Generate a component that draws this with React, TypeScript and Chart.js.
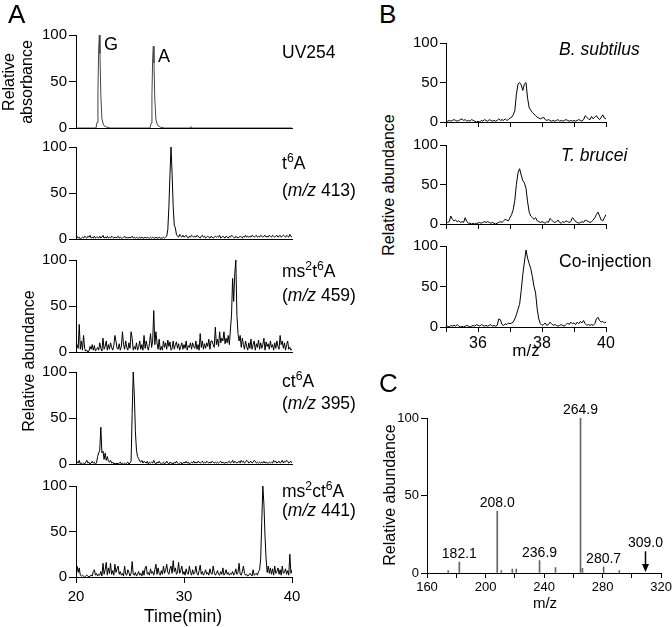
import React, { useEffect, useRef } from 'react';
import { Chart, registerables } from 'chart.js';

Chart.register(...registerables);

const FONT = '"Liberation Sans", Arial, Helvetica, sans-serif';
Chart.defaults.color = '#000';
Chart.defaults.font.family = FONT;

// ---------------- Panel A data (time in minutes, 0.1 min sampling) ----------------
const sampleTimesA = Array.from({ length: 201 }, (_, i) => Math.round((20 + i * 0.1) * 10) / 10);
const timeTicksA = [20, 30, 40];

const uvTimes = [20, 21.85, 21.95, 22.03, 22.1, 22.16, 22.22, 22.3, 22.4, 22.55, 22.8, 23.2,
  26.85, 26.95, 27.03, 27.1, 27.16, 27.22, 27.3, 27.4, 27.55, 27.8, 28.2, 30.55, 30.65, 30.75, 40];
const uvAbsorbance = [0, 0, 6, 40, 85, 100, 80, 35, 10, 3, 1, 0,
  0, 5, 35, 75, 88, 70, 30, 9, 3, 1, 0, 0, 1.5, 0, 0];

const t6A = [
  2, 3, 1, 2, 0, 1, 2, 1, 3, 2,
  1, 3, 2, 4, 1, 2, 1, 3, 1, 2,
  2, 1, 3, 1, 2, 4, 1, 2, 1, 3,
  1, 2, 1, 3, 2, 1, 2, 1, 2, 3,
  1, 2, 1, 1, 2, 3, 1, 2, 1, 2,
  1, 2, 3, 1, 2, 1, 2, 1, 1, 2,
  1, 2, 1, 1, 2, 1, 2, 1, 1, 2,
  1, 2, 1, 1, 2, 1, 1, 2, 1, 1,
  1, 2, 1, 2, 3, 10, 35, 70, 100, 70,
  35, 15, 12, 5, 3, 2, 5, 3, 2, 4,
  2, 3, 4, 2, 1, 3, 2, 4, 3, 2,
  3, 2, 4, 3, 2, 1, 3, 4, 2, 3,
  1, 2, 3, 2, 1, 3, 2, 1, 2, 3,
  2, 3, 2, 4, 1, 2, 3, 2, 1, 3,
  2, 1, 3, 2, 4, 3, 2, 1, 3, 2,
  1, 2, 3, 2, 1, 3, 2, 4, 2, 3,
  2, 3, 2, 4, 3, 2, 3, 4, 2, 3,
  2, 4, 3, 2, 3, 4, 2, 3, 2, 4,
  3, 2, 4, 3, 2, 3, 4, 2, 3, 4,
  2, 3, 4, 3, 2, 4, 3, 2, 5, 3,
  2,
];

const ms2t6A = [
  2, 8, 4, 30, 3, 12, 2, 18, 4, 1,
  2, 0, 1, 6, 3, 8, 2, 7, 1, 3,
  5, 2, 10, 4, 1, 15, 3, 6, 12, 2,
  8, 3, 10, 5, 2, 7, 18, 12, 4, 3,
  9, 2, 6, 22, 8, 3, 12, 5, 2, 10,
  4, 22, 15, 2, 6, 3, 10, 2, 5, 12,
  3, 8, 2, 18, 4, 12, 6, 2, 9, 20,
  5, 12, 45, 8, 22, 10, 3, 14, 2, 6,
  2, 12, 5, 10, 3, 13, 6, 11, 2, 4,
  12, 3, 8, 11, 4, 9, 2, 6, 10, 3,
  8, 4, 12, 2, 7, 5, 10, 3, 10, 6,
  4, 12, 3, 8, 2, 20, 5, 12, 3, 9,
  4, 10, 6, 14, 3, 12, 12, 8, 5, 27,
  8, 14, 6, 22, 10, 15, 12, 22, 9, 15,
  10, 18, 8, 25, 40, 80, 55, 85, 100, 40,
  20, 12, 18, 5, 15, 8, 3, 12, 6, 2,
  10, 4, 14, 3, 8, 12, 2, 9, 5, 13,
  3, 10, 4, 8, 15, 2, 11, 6, 9, 3,
  12, 5, 8, 2, 10, 4, 12, 6, 3, 18,
  8, 12, 4, 10, 2, 8, 12, 3, 5, 2,
  3,
];

const ct6A = [
  5, 2, 1, 4, 0, 1, 0, 1, 0, 2,
  4, 1, 2, 0, 1, 3, 1, 2, 0, 1,
  8, 12, 15, 40, 12, 14, 5, 12, 4, 8,
  3, 2, 4, 1, 2, 0, 1, 0, 1, 0,
  1, 2, 0, 1, 0, 1, 0, 1, 2, 0,
  1, 3, 55, 100, 75, 35, 15, 8, 6, 3,
  2, 4, 1, 3, 2, 1, 3, 0, 2, 1,
  2, 1, 4, 1, 0, 2, 1, 3, 1, 0,
  1, 2, 0, 1, 3, 1, 0, 2, 1, 1,
  0, 2, 1, 3, 1, 0, 1, 2, 0, 1,
  2, 1, 3, 1, 2, 0, 1, 2, 1, 3,
  1, 2, 1, 3, 2, 1, 2, 3, 1, 2,
  1, 3, 2, 1, 2, 1, 3, 2, 1, 2,
  1, 2, 1, 2, 3, 1, 2, 1, 1, 2,
  1, 2, 3, 1, 2, 4, 1, 3, 2, 1,
  2, 3, 1, 4, 2, 3, 1, 2, 4, 3,
  1, 2, 3, 1, 2, 4, 3, 1, 2, 1,
  2, 1, 2, 1, 3, 1, 2, 1, 1, 2,
  1, 2, 1, 4, 2, 3, 1, 2, 3, 1,
  2, 4, 1, 3, 2, 4, 3, 1, 2, 3,
  1,
];

const ms2ct6A = [
  3, 12, 5, 10, 2, 1, 2, 1, 0, 1,
  2, 1, 0, 1, 2, 1, 6, 8, 2, 4,
  1, 3, 2, 6, 1, 15, 3, 8, 16, 2,
  10, 4, 15, 3, 7, 2, 14, 5, 9, 12,
  3, 6, 2, 4, 1, 12, 3, 2, 8, 5,
  1, 4, 17, 3, 2, 5, 1, 3, 6, 2,
  4, 1, 7, 2, 10, 12, 3, 5, 2, 9,
  4, 6, 2, 8, 14, 3, 10, 4, 2, 7,
  3, 12, 4, 8, 14, 5, 3, 9, 12, 4,
  18, 6, 10, 3, 5, 16, 4, 7, 12, 3,
  6, 2, 9, 4, 3, 12, 5, 2, 8, 3,
  5, 12, 4, 2, 7, 13, 3, 6, 2, 4,
  8, 3, 5, 2, 9, 4, 3, 12, 5, 2,
  4, 7, 3, 2, 6, 3, 10, 2, 4, 8,
  3, 5, 2, 4, 3, 6, 2, 4, 9, 3,
  5, 15, 3, 2, 6, 12, 4, 2, 3, 1,
  2, 4, 3, 1, 8, 2, 3, 4, 2, 6,
  8, 20, 60, 100, 80, 45, 20, 5, 12, 4,
  10, 3, 9, 2, 12, 4, 6, 10, 3, 8,
  2, 12, 4, 5, 9, 3, 7, 2, 25, 4,
  8,
];

// ---------------- Panel B data (m/z axis 35-40, 0.05 sampling) ----------------
const sampleAxisB = Array.from({ length: 101 }, (_, i) => Math.round((35 + i * 0.05) * 100) / 100);
const axisTicksB = [36, 38, 40];

const bSubtilis = [
  0, 1, 2, 1, 2, 3, 2, 1, 2, 3,
  4, 2, 3, 1, 2, 1, 3, 2, 1, 0,
  1, 0, 2, 1, 3, 2, 1, 3, 2, 1,
  2, 1, 2, 4, 2, 3, 2, 4, 2, 3,
  5, 6, 9, 14, 35, 48, 50, 47, 40, 48,
  50, 30, 18, 15, 12, 10, 8, 6, 5, 4,
  5, 6, 3, 2, 3, 2, 1, 2, 1, 2,
  3, 1, 2, 1, 2, 3, 2, 1, 2, 1,
  2, 1, 2, 3, 2, 1, 3, 8, 6, 4,
  3, 7, 4, 6, 8, 5, 3, 6, 9, 5,
  4,
];

const tBrucei = [
  1, 2, 3, 10, 6, 4, 5, 3, 4, 2,
  3, 2, 8, 3, 1, 1, 0, 1, 0, 1,
  1, 2, 1, 2, 3, 2, 3, 2, 1, 2,
  1, 0, 1, 2, 3, 2, 4, 6, 5, 4,
  8, 12, 18, 30, 50, 65, 70, 62, 55, 52,
  45, 28, 15, 10, 8, 6, 8, 4, 3, 2,
  3, 2, 1, 3, 2, 7, 5, 3, 2, 3,
  5, 2, 1, 3, 2, 4, 3, 2, 3, 8,
  6, 3, 2, 1, 2, 3, 2, 5, 4, 3,
  2, 3, 5, 8, 12, 15, 10, 5, 4, 8,
  12,
];

const coInjection = [
  0, 1, 0, 2, 1, 2, 1, 3, 1, 0,
  1, 0, 1, 2, 1, 0, 1, 2, 1, 3,
  2, 1, 3, 2, 1, 2, 1, 2, 3, 1,
  2, 1, 2, 10, 9, 3, 2, 4, 3, 5,
  4, 5, 6, 10, 15, 22, 28, 45, 65, 80,
  95, 85, 78, 72, 62, 50, 42, 22, 10, 4,
  2, 3, 5, 2, 3, 6, 4, 2, 3, 2,
  1, 2, 3, 2, 1, 3, 5, 3, 6, 4,
  5, 3, 6, 4, 7, 5, 8, 4, 2, 3,
  2, 3, 2, 4, 10, 12, 8, 6, 7, 5,
  6,
];

// ---------------- Panel C data (MS/MS spectrum) ----------------
const spectrumMz = [174.5, 182.1, 208.0, 210.8, 218.3, 221.0, 236.9, 247.8, 264.9, 266.2, 280.7, 291.4];
const spectrumAbundance = [1.5, 7, 40, 1.5, 2.5, 2.5, 8, 3.5, 100, 3, 4, 1.5];
const labeledMz = [182.1, 208.0, 236.9, 264.9, 280.7];
const labeledAbundance = [7, 40, 8, 100, 4];
const arrowMz = 309.0;
const arrowFrom = 14;
const spectrumTicks = [160, 200, 240, 280, 320];

// ---------------- helpers ----------------
type Spec = {
  L: number; T: number; R: number; B: number;
  W: number; padTop: number; padRight: number; bottom: number;
  xMin: number; xMax: number; xStep: number;
  xTickLen: number; xPad: number; xFont: number; xLabels: number[] | null;
  yTickLen: number; yPad: number; yFont: number;
};

function scalesFor(s: Spec) {
  return {
    x: {
      type: 'linear',
      min: s.xMin,
      max: s.xMax,
      offset: false,
      afterFit: (sc: any) => { sc.height = s.bottom; },
      grid: {
        display: true, drawOnChartArea: false, drawTicks: s.xTickLen > 0,
        tickLength: s.xTickLen, color: '#000', tickColor: '#000', tickWidth: 1, offset: false,
      },
      border: { display: true, color: '#000', width: 1 },
      ticks: {
        display: !!s.xLabels,
        stepSize: s.xStep,
        autoSkip: false,
        maxRotation: 0,
        minRotation: 0,
        padding: s.xPad,
        color: '#000',
        font: { family: FONT, size: s.xFont },
        callback: (v: any) => (s.xLabels && s.xLabels.includes(Number(v)) ? String(v) : ''),
      },
    },
    y: {
      type: 'linear',
      min: 0,
      max: 100,
      afterFit: (sc: any) => { sc.width = s.W; },
      grid: {
        display: true, drawOnChartArea: false, drawTicks: true,
        tickLength: s.yTickLen, color: '#000', tickColor: '#000', tickWidth: 1,
      },
      border: { display: true, color: '#000', width: 1 },
      ticks: {
        stepSize: 50,
        padding: s.yPad,
        color: '#000',
        font: { family: FONT, size: s.yFont },
      },
    },
  };
}

function baseOptions(s: Spec) {
  return {
    animation: false,
    responsive: false,
    maintainAspectRatio: false,
    events: [],
    layout: { padding: { top: s.padTop, right: s.padRight, left: 0, bottom: 0 } },
    plugins: { legend: { display: false }, tooltip: { enabled: false }, title: { display: false } },
    scales: scalesFor(s),
  };
}

function canvasRect(s: Spec) {
  return {
    left: s.L - s.W,
    top: s.T - s.padTop,
    width: s.R - s.L + s.W + s.padRight,
    height: s.B - s.T + s.padTop + s.bottom,
  };
}

function ChartCanvas({ spec, build }: { spec: Spec; build: () => any }) {
  const ref = useRef<HTMLCanvasElement>(null);
  useEffect(() => {
    const chart = new Chart(ref.current as HTMLCanvasElement, build());
    return () => chart.destroy();
  }, []);
  const r = canvasRect(spec);
  return (
    <canvas
      ref={ref}
      width={r.width}
      height={r.height}
      style={{ position: 'absolute', left: r.left, top: r.top, width: r.width, height: r.height }}
    />
  );
}

function LinePanel({ spec, xs, ys, color = '#000', width = 1 }: { spec: Spec; xs: number[]; ys: number[]; color?: string; width?: number }) {
  const build = () => ({
    type: 'line',
    data: {
      datasets: [{
        data: xs.map((x, i) => ({ x, y: ys[i] })),
        borderColor: color,
        borderWidth: width,
        pointRadius: 0,
        tension: 0,
        fill: false,
      }],
    },
    options: baseOptions(spec),
  });
  return <ChartCanvas spec={spec} build={build} />;
}

const peakLabelPlugin = {
  id: 'peakLabels',
  afterDatasetsDraw(chart: any) {
    const { ctx } = chart;
    const x = chart.scales.x;
    const y = chart.scales.y;
    ctx.save();
    ctx.fillStyle = '#000';
    ctx.strokeStyle = '#000';
    ctx.font = `14px ${FONT}`;
    ctx.textAlign = 'center';
    ctx.textBaseline = 'alphabetic';
    labeledMz.forEach((mz, i) => {
      ctx.fillText(mz.toFixed(1), x.getPixelForValue(mz), y.getPixelForValue(labeledAbundance[i]) - 4);
    });
    const ax = Math.round(x.getPixelForValue(arrowMz)) + 0.5;
    const aTop = y.getPixelForValue(arrowFrom);
    const aTip = y.getPixelForValue(0) - 1;
    ctx.fillText(arrowMz.toFixed(1), ax, aTop - 4);
    ctx.lineWidth = 1.5;
    ctx.beginPath();
    ctx.moveTo(ax, aTop);
    ctx.lineTo(ax, aTip - 6);
    ctx.stroke();
    ctx.beginPath();
    ctx.moveTo(ax - 3.5, aTip - 8);
    ctx.lineTo(ax + 3.5, aTip - 8);
    ctx.lineTo(ax, aTip);
    ctx.closePath();
    ctx.fill();
    ctx.restore();
  },
};

function SpectrumPanel({ spec }: { spec: Spec }) {
  const build = () => ({
    type: 'bar',
    data: {
      datasets: [{
        data: spectrumMz.map((x, i) => ({ x, y: spectrumAbundance[i] })),
        backgroundColor: '#666',
        borderWidth: 0,
        barThickness: 1,
      }],
    },
    options: baseOptions(spec),
    plugins: [peakLabelPlugin],
  });
  return <ChartCanvas spec={spec} build={build} />;
}

function Txt({ x, y, size, children, center = false, italic = false }: any) {
  return (
    <div
      style={{
        position: 'absolute',
        left: x,
        top: y - 0.8465 * size,
        fontSize: size,
        lineHeight: `${size}px`,
        fontFamily: FONT,
        fontStyle: italic ? 'italic' : 'normal',
        whiteSpace: 'nowrap',
        color: '#000',
        transform: center ? 'translateX(-50%)' : undefined,
      }}
    >
      {children}
    </div>
  );
}

function Sup({ children, size }: any) {
  return (
    <span style={{ fontSize: size * 0.7, verticalAlign: `${size * 0.4}px`, lineHeight: 0 }}>{children}</span>
  );
}

// rotated text block centred at (cx, cy); fixed box so the rotation lands on whole pixels
function VTxt({ cx, cy, size, lh, lines, children }: any) {
  const lineH = lh || size;
  const n = lines || 1;
  const boxW = 200;
  const boxH = Math.round(lineH * n / 2) * 2;
  return (
    <div
      style={{
        position: 'absolute',
        left: Math.round(cx - boxW / 2),
        top: Math.round(cy - boxH / 2),
        width: boxW,
        height: boxH,
        transform: 'rotate(-90deg)',
        transformOrigin: '50% 50%',
        fontSize: size,
        lineHeight: `${lineH}px`,
        fontFamily: FONT,
        textAlign: 'center',
        whiteSpace: 'nowrap',
        color: '#000',
      }}
    >
      {children}
    </div>
  );
}

const aCommon = { L: 76, R: 292, W: 76, padTop: 10, padRight: 20, xMin: 20, xMax: 40, xStep: 10, xPad: 5, xFont: 15, yTickLen: 7, yPad: 2, yFont: 15 };
const specA1: Spec = { ...aCommon, T: 34, B: 128, bottom: 12, xTickLen: 0, xLabels: null };
const specA2: Spec = { ...aCommon, T: 146, B: 239, bottom: 12, xTickLen: 0, xLabels: null };
const specA3: Spec = { ...aCommon, T: 259, B: 352, bottom: 12, xTickLen: 0, xLabels: null };
const specA4: Spec = { ...aCommon, T: 371, B: 464, bottom: 12, xTickLen: 0, xLabels: null };
const specA5: Spec = { ...aCommon, T: 485, B: 577, bottom: 40, xTickLen: 6, xLabels: timeTicksA };

const bCommon = { L: 446, R: 606, W: 46, padTop: 10, padRight: 20, xMin: 35, xMax: 40, xStep: 1, xPad: 2, xFont: 16, yTickLen: 6, yPad: 2, yFont: 15, xTickLen: 5 };
const specB1: Spec = { ...bCommon, T: 42, B: 123, bottom: 10, xLabels: null };
const specB2: Spec = { ...bCommon, T: 144, B: 225, bottom: 10, xLabels: null };
const specB3: Spec = { ...bCommon, T: 245, B: 327, bottom: 30, xLabels: axisTicksB };

const specC: Spec = { L: 427, R: 662, T: 418, B: 573, W: 40, padTop: 26, padRight: 12, bottom: 30, xMin: 160, xMax: 320, xStep: 20, xTickLen: 5, xPad: 2, xFont: 13, xLabels: spectrumTicks, yTickLen: 6, yPad: 2, yFont: 13 };

export default function App() {
  const ls = 17.5;
  return (
    <div style={{ position: 'absolute', left: 0, top: 0, width: 672, height: 627, background: '#fff', overflow: 'hidden', fontFamily: FONT }}>
      <LinePanel spec={specA1} xs={uvTimes} ys={uvAbsorbance} color="#444" />
      <LinePanel spec={specA2} xs={sampleTimesA} ys={t6A} />
      <LinePanel spec={specA3} xs={sampleTimesA} ys={ms2t6A} />
      <LinePanel spec={specA4} xs={sampleTimesA} ys={ct6A} />
      <LinePanel spec={specA5} xs={sampleTimesA} ys={ms2ct6A} />
      <LinePanel spec={specB1} xs={sampleAxisB} ys={bSubtilis} />
      <LinePanel spec={specB2} xs={sampleAxisB} ys={tBrucei} />
      <LinePanel spec={specB3} xs={sampleAxisB} ys={coInjection} />
      <SpectrumPanel spec={specC} />

      {/* panel letters */}
      <Txt x={8} y={23} size={26}>A</Txt>
      <Txt x={379} y={23} size={26}>B</Txt>
      <Txt x={379} y={392} size={26}>C</Txt>

      {/* panel A peak labels */}
      <Txt x={104} y={50} size={18}>G</Txt>
      <Txt x={158} y={62} size={18}>A</Txt>

      {/* panel A trace labels */}
      <Txt x={282} y={59} size={ls}>UV254</Txt>
      <Txt x={282} y={170} size={ls}>t<Sup size={ls}>6</Sup>A</Txt>
      <Txt x={282} y={197} size={ls}>(<i>m/z</i> 413)</Txt>
      <Txt x={282} y={278} size={ls}>ms<Sup size={ls}>2</Sup>t<Sup size={ls}>6</Sup>A</Txt>
      <Txt x={282} y={302} size={ls}>(<i>m/z</i> 459)</Txt>
      <Txt x={282} y={388} size={ls}>ct<Sup size={ls}>6</Sup>A</Txt>
      <Txt x={282} y={410} size={ls}>(<i>m/z</i> 395)</Txt>
      <Txt x={282} y={498} size={ls}>ms<Sup size={ls}>2</Sup>ct<Sup size={ls}>6</Sup>A</Txt>
      <Txt x={282} y={517} size={ls}>(<i>m/z</i> 441)</Txt>

      {/* panel B labels */}
      <Txt x={559} y={56} size={ls} italic>B. subtilus</Txt>
      <Txt x={561} y={162} size={ls} italic>T. brucei</Txt>
      <Txt x={559} y={268} size={ls}>Co-injection</Txt>

      {/* axis titles */}
      <Txt x={183} y={623} size={17.5} center>Time(min)</Txt>
      <Txt x={526} y={356} size={17} center>m/z</Txt>
      <Txt x={545} y={608} size={15} center>m/z</Txt>
      <VTxt cx={18} cy={82} size={16} lh={17.5} lines={2}>Relative<br />absorbance</VTxt>
      <VTxt cx={29} cy={361} size={16}>Relative abundance</VTxt>
      <VTxt cx={389} cy={185} size={16}>Relative abundance</VTxt>
      <VTxt cx={390} cy={495} size={16}>Relative abundance</VTxt>
    </div>
  );
}
